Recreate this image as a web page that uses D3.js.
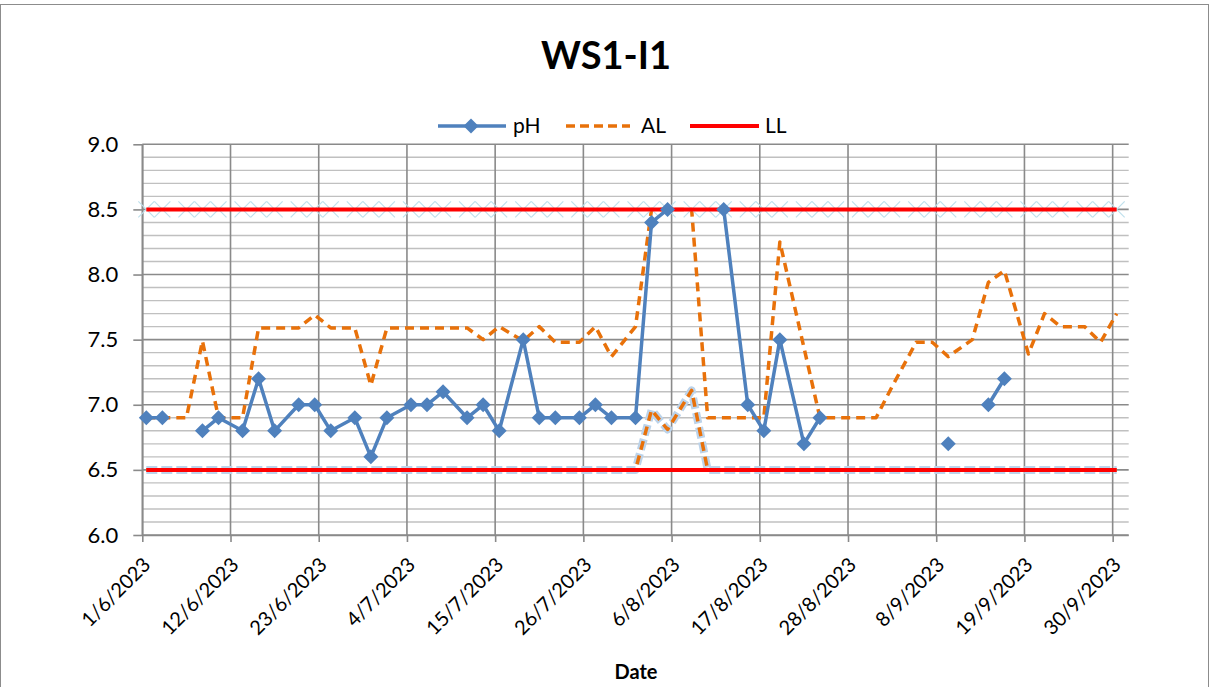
<!DOCTYPE html>
<html><head><meta charset="utf-8">
<script src="https://cdn.jsdelivr.net/npm/d3@7"></script>
<style>body{margin:0;background:#fff;} text{font-family:Lato,"Open Sans",sans-serif;}</style>
</head><body>
<script>
// ---- data ----
const dates = ["2023-06-01","2023-06-03","2023-06-06","2023-06-08","2023-06-10","2023-06-13","2023-06-15","2023-06-17","2023-06-20","2023-06-22","2023-06-24","2023-06-27","2023-06-29",
"2023-07-01","2023-07-04","2023-07-06","2023-07-08","2023-07-11","2023-07-13","2023-07-15","2023-07-18","2023-07-20","2023-07-22","2023-07-25","2023-07-27","2023-07-29",
"2023-08-01","2023-08-03","2023-08-05","2023-08-08","2023-08-10","2023-08-12","2023-08-15","2023-08-17","2023-08-19","2023-08-22","2023-08-24","2023-08-26","2023-08-29","2023-08-31",
"2023-09-02","2023-09-05","2023-09-07","2023-09-09","2023-09-12","2023-09-14","2023-09-16","2023-09-19","2023-09-21","2023-09-23","2023-09-26","2023-09-28","2023-09-30"];
const pH = [6.9,6.9,null,6.8,6.9,6.8,7.2,6.8,7.0,7.0,6.8,6.9,6.6,
6.9,7.0,7.0,7.1,6.9,7.0,6.8,7.5,6.9,6.9,6.9,7.0,6.9,
6.9,8.4,8.5,null,null,8.5,7.0,6.8,7.5,6.7,6.9,null,null,null,
null,null,null,6.7,null,7.0,7.2,null,null,null,null,null,null];
const alUpper = [6.9,6.9,6.9,7.49,6.9,6.9,7.59,7.59,7.59,7.69,7.59,7.59,7.15,
7.59,7.59,7.59,7.59,7.59,7.5,7.6,7.49,7.6,7.48,7.48,7.6,7.37,
7.6,8.5,8.5,8.5,6.9,6.9,6.9,6.9,8.25,7.44,6.9,6.9,6.9,6.9,
7.14,7.48,7.48,7.37,7.5,7.94,8.03,7.39,7.7,7.6,7.6,7.48,7.7];
const alLower = [6.5,6.5,6.5,6.5,6.5,6.5,6.5,6.5,6.5,6.5,6.5,6.5,6.5,
6.5,6.5,6.5,6.5,6.5,6.5,6.5,6.5,6.5,6.5,6.5,6.5,6.5,
6.5,6.96,6.81,7.11,6.5,6.5,6.5,6.5,6.5,6.5,6.5,6.5,6.5,6.5,
6.5,6.5,6.5,6.5,6.5,6.5,6.5,6.5,6.5,6.5,6.5,6.5,6.5];
const ulMarkers = dates.map(() => 8.5);
const limits = [8.5, 6.5];
const yTicks = [6.0,6.5,7.0,7.5,8.0,8.5,9.0];
const xTicks = ["2023-06-01","2023-06-12","2023-06-23","2023-07-04","2023-07-15","2023-07-26","2023-08-06","2023-08-17","2023-08-28","2023-09-08","2023-09-19","2023-09-30"];
const title = "WS1-I1", xTitle = "Date";
const seriesNames = ["pH","AL","LL"];

// ---- chart ----
const W = 1211, H = 687;
const svg = d3.select("body").append("svg").attr("width", W).attr("height", H);
const parse = d3.utcParse("%Y-%m-%d");
const start = parse("2023-06-01");
const end = d3.utcDay.offset(start, 123);
const L = 142.3, R = 1128.7, T = 144.3, B = 535;
const x = d3.scaleUtc().domain([start, end]).range([L, R]);
const y = d3.scaleLinear().domain([6, 9]).range([B, T]);
const cx = s => x(d3.utcHour.offset(parse(s), 12));
const BLUE = "#4F81BD", ORANGE = "#E8710A", RED = "#FF0000";

svg.append("rect").attr("x",0.5).attr("y",4.5).attr("width",W-3).attr("height",H).attr("fill","none").attr("stroke","#8c8c8c");

// grid
const minor = d3.range(60, 91).map(v => v/10);
svg.append("g").selectAll("line").data(minor).join("line")
  .attr("x1", L).attr("x2", R).attr("y1", d => y(d)).attr("y2", d => y(d))
  .attr("stroke", d => (Math.round(d*10) % 5 === 0) ? "#8a8a8a" : "#c0c0c0")
  .attr("stroke-width", d => (Math.round(d*10) % 5 === 0) ? 1.6 : 1.4);
svg.append("g").selectAll("line").data(xTicks).join("line")
  .attr("x1", d => x(parse(d))).attr("x2", d => x(parse(d))).attr("y1", T).attr("y2", B)
  .attr("stroke", "#8a8a8a").attr("stroke-width", 1.6);

// axes
const xAxis = svg.append("g").attr("transform", `translate(0,${B})`)
  .call(d3.axisBottom(x).tickValues(xTicks.map(parse)).tickFormat(d3.utcFormat("%-d/%-m/%Y")).tickSize(7).tickSizeOuter(0));
xAxis.select(".domain").attr("stroke", "#8a8a8a").attr("stroke-width", 1.6).attr("d", `M${L},0.5H${R}`);
xAxis.selectAll(".tick line").attr("stroke", "#8a8a8a").attr("stroke-width", 1.6);
xAxis.selectAll(".tick text").attr("font-size", 20).attr("fill", "#000")
  .attr("text-anchor", "end").attr("dy", 0).attr("y", 0)
  .attr("transform", "translate(9,31) rotate(-45)");
const yAxis = svg.append("g").attr("transform", `translate(${L},0)`)
  .call(d3.axisLeft(y).tickValues(yTicks).tickFormat(d3.format(".1f")).tickSize(9).tickSizeOuter(0));
yAxis.select(".domain").attr("stroke", "#8a8a8a").attr("stroke-width", 1.6);
yAxis.selectAll(".tick line").attr("stroke", "#8a8a8a").attr("stroke-width", 1.6);
yAxis.selectAll(".tick text").attr("font-size", 22).attr("fill", "#000").attr("x", -24);

const idx = dates.map((d, i) => i);
const mk = arr => d3.line().defined(i => arr[i] != null).x(i => cx(dates[i])).y(i => y(arr[i]));

// AL lower (glow + dashed)
svg.append("path").attr("d", mk(alLower)(idx)).attr("fill","none").attr("stroke","#bcd3ea").attr("stroke-width",8)
  .attr("stroke-dasharray","11,4").attr("stroke-linejoin","round");
svg.append("path").attr("d", mk(alLower)(idx)).attr("fill","none").attr("stroke",ORANGE).attr("stroke-width",3.5)
  .attr("stroke-dasharray","9,6").attr("stroke-linejoin","round");
// AL upper
svg.append("path").attr("d", mk(alUpper)(idx)).attr("fill","none").attr("stroke",ORANGE).attr("stroke-width",3.5)
  .attr("stroke-dasharray","9,6").attr("stroke-linejoin","round");

// UL X markers (faint)
const xs = 8;
svg.append("g").selectAll("path").data(idx).join("path")
  .attr("d", i => { const px = cx(dates[i]), py = y(ulMarkers[i]); return `M${px-xs},${py-xs}L${px+xs},${py+xs}M${px-xs},${py+xs}L${px+xs},${py-xs}`; })
  .attr("stroke", "#bfe0ec").attr("stroke-width", 1.2).attr("fill","none");

// LL red lines
svg.append("g").selectAll("path").data(limits).join("path")
  .attr("d", v => d3.line().x(i => cx(dates[i])).y(() => y(v))(idx))
  .attr("fill","none").attr("stroke", RED).attr("stroke-width", 4);

// pH
svg.append("path").attr("d", mk(pH)(idx)).attr("fill","none").attr("stroke",BLUE).attr("stroke-width",3.5).attr("stroke-linejoin","round");
const diamond = (px, py, r) => `M${px},${py-r}L${px+r},${py}L${px},${py+r}L${px-r},${py}Z`;
svg.append("g").selectAll("path").data(idx.filter(i => pH[i] != null)).join("path")
  .attr("d", i => diamond(cx(dates[i]), y(pH[i]), 7.5)).attr("fill", BLUE);

// title
svg.append("text").attr("x", 606).attr("y", 69).attr("text-anchor","middle").attr("font-size",38).attr("font-weight","bold").text(title);
svg.append("text").attr("x", 636).attr("y", 679).attr("text-anchor","middle").attr("font-size",20).attr("font-weight","bold").text(xTitle);

// legend
const ly = 126;
svg.append("line").attr("x1",438).attr("x2",506).attr("y1",ly).attr("y2",ly).attr("stroke",BLUE).attr("stroke-width",3.5);
svg.append("path").attr("d", diamond(471, ly, 7.5)).attr("fill", BLUE);
svg.append("text").attr("x",513).attr("y",ly+7).attr("font-size",21).text(seriesNames[0]);
svg.append("line").attr("x1",566).attr("x2",630).attr("y1",ly).attr("y2",ly).attr("stroke",ORANGE).attr("stroke-width",3.5).attr("stroke-dasharray","9,5");
svg.append("text").attr("x",641).attr("y",ly+7).attr("font-size",21).text(seriesNames[1]);
svg.append("line").attr("x1",690).attr("x2",759).attr("y1",ly).attr("y2",ly).attr("stroke",RED).attr("stroke-width",4);
svg.append("text").attr("x",765).attr("y",ly+7).attr("font-size",21).text(seriesNames[2]);
</script>
</body></html>
